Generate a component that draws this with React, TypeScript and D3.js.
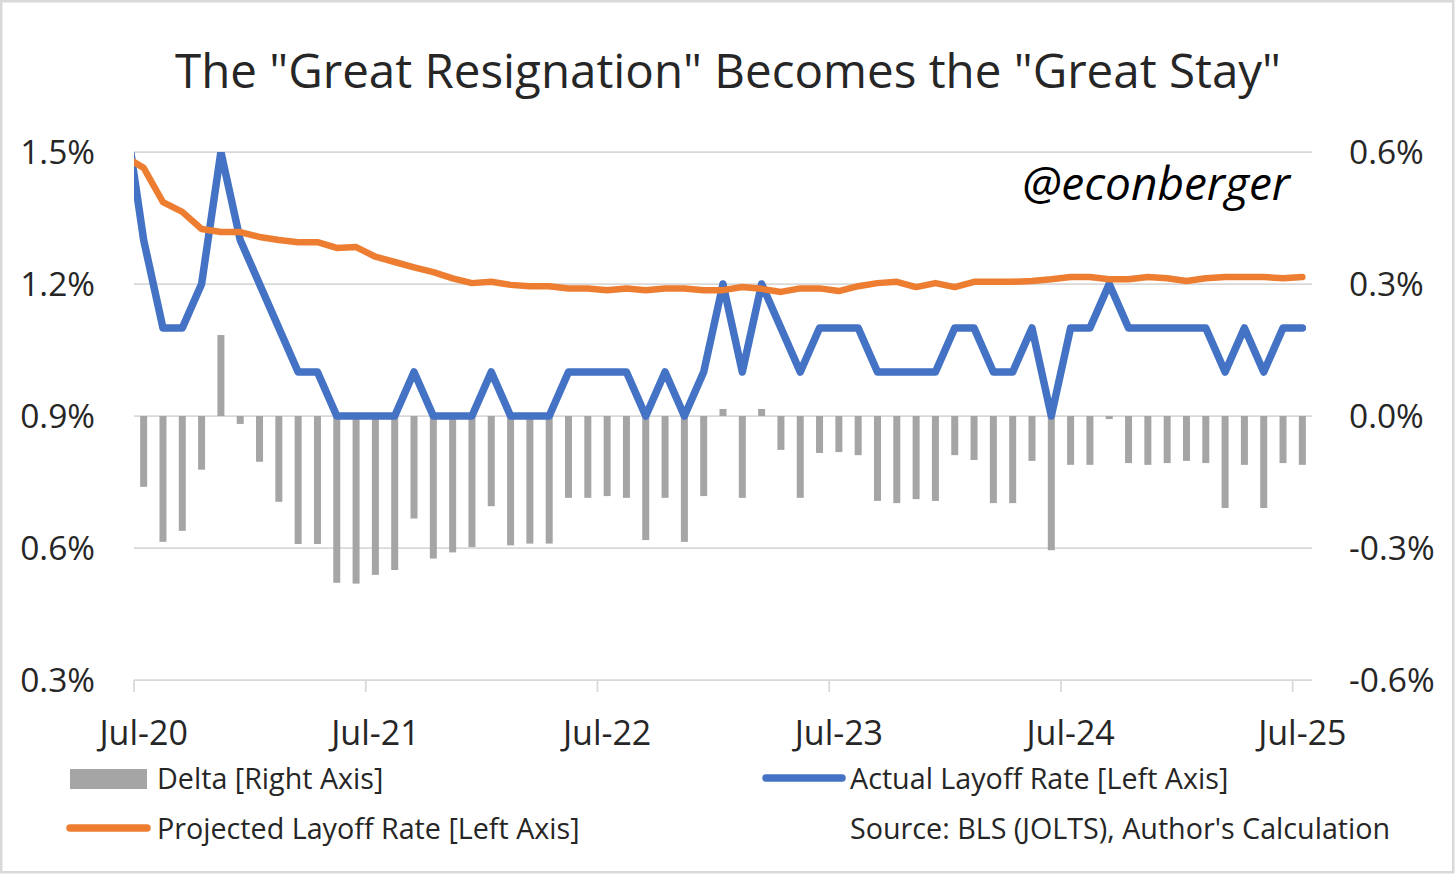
import React, { useEffect, useRef } from 'react';
import * as d3 from 'd3';

// monthly categories, Jul-20 .. Jul-25
const months = d3.timeMonth.range(new Date(2020, 6, 1), new Date(2025, 7, 1));

// Actual layoff rate (%), left axis
const actualRate = [
    1.3, 1.1, 1.1, 1.2, 1.5, 1.3, 1.2, 1.1, 1.0, 1.0,
    0.9, 0.9, 0.9, 0.9, 1.0, 0.9, 0.9, 0.9, 1.0, 0.9,
    0.9, 0.9, 1.0, 1.0, 1.0, 1.0, 0.9, 1.0, 0.9, 1.0,
    1.2, 1.0, 1.2, 1.1, 1.0, 1.1, 1.1, 1.1, 1.0, 1.0,
    1.0, 1.0, 1.1, 1.1, 1.0, 1.0, 1.1, 0.9, 1.1, 1.1,
    1.2, 1.1, 1.1, 1.1, 1.1, 1.1, 1.0, 1.1, 1.0, 1.1,
    1.1
];

// Projected layoff rate (%), left axis
const projectedRate = [
    1.464, 1.386, 1.364, 1.325, 1.318, 1.318, 1.307, 1.300, 1.295, 1.295,
    1.282, 1.284, 1.262, 1.250, 1.238, 1.227, 1.213, 1.202, 1.205, 1.198,
    1.195, 1.195, 1.190, 1.190, 1.186, 1.190, 1.186, 1.190, 1.190, 1.186,
    1.186, 1.193, 1.189, 1.182, 1.190, 1.190, 1.184, 1.195, 1.202, 1.205,
    1.193, 1.202, 1.193, 1.205, 1.205, 1.205, 1.207, 1.211, 1.216, 1.216,
    1.211, 1.211, 1.216, 1.213, 1.207, 1.213, 1.216, 1.216, 1.216, 1.213,
    1.216
];

// Delta (actual - projected, %), right axis
const delta = [
    -0.161, -0.286, -0.261, -0.122, 0.184, -0.018, -0.104, -0.195, -0.291, -0.291,
    -0.379, -0.381, -0.361, -0.350, -0.233, -0.324, -0.310, -0.298, -0.205, -0.294,
    -0.290, -0.290, -0.186, -0.186, -0.182, -0.186, -0.282, -0.186, -0.286, -0.182,
    0.016, -0.186, 0.016, -0.077, -0.186, -0.084, -0.082, -0.089, -0.193, -0.198,
    -0.189, -0.193, -0.089, -0.100, -0.198, -0.198, -0.102, -0.305, -0.111, -0.111,
    -0.007, -0.107, -0.111, -0.107, -0.102, -0.107, -0.209, -0.111, -0.209, -0.107,
    -0.111
];

// Jun-20 values: off the left edge of the plot, only the line run-in shows
const priorActual = 1.6;
const priorProjected = 1.49;

const leftTicks = [0.3, 0.6, 0.9, 1.2, 1.5];
const rightTicks = [-0.6, -0.3, 0.0, 0.3, 0.6];

const W = 1456;
const H = 875;
const plot = { left: 134, right: 1312, top: 152, bottom: 680 };
const FONT = "'Open Sans', 'Noto Sans', sans-serif";
const TEXT = '#262626';
const GRID = '#d9d9d9';

const App: React.FC = () => {
    const svgRef = useRef<SVGSVGElement>(null);

    useEffect(() => {
        if (!svgRef.current) return;
        document.body.style.margin = '0';

        const svg = d3.select(svgRef.current);
        svg.selectAll('*').remove();

        const x = d3.scaleLinear()
            .domain([-0.5, months.length - 0.5])
            .range([plot.left, plot.right]);
        const yLeft = d3.scaleLinear().domain([0.3, 1.5]).range([plot.bottom, plot.top]);
        const yRight = d3.scaleLinear().domain([-0.6, 0.6]).range([plot.bottom, plot.top]);

        // background + frame
        svg.append('rect')
            .attr('x', 1.25).attr('y', 1.25)
            .attr('width', W - 4).attr('height', H - 4)
            .attr('fill', '#fff')
            .attr('stroke', GRID)
            .attr('stroke-width', 2.5);

        svg.append('defs').append('clipPath')
            .attr('id', 'plot-clip')
            .append('rect')
            .attr('x', plot.left).attr('y', plot.top)
            .attr('width', plot.right - plot.left)
            .attr('height', plot.bottom - plot.top);

        // title
        svg.append('text')
            .attr('x', W / 2).attr('y', 88)
            .attr('text-anchor', 'middle')
            .attr('font-family', FONT)
            .attr('font-size', 47.5)
            .attr('fill', TEXT)
            .text('The "Great Resignation" Becomes the "Great Stay"');

        // gridlines
        svg.append('g')
            .selectAll('line')
            .data(leftTicks)
            .join('line')
            .attr('x1', plot.left).attr('x2', plot.right)
            .attr('y1', d => yLeft(d)).attr('y2', d => yLeft(d))
            .attr('stroke', GRID)
            .attr('stroke-width', 1.75);

        // x tick marks, at the left edge of each July
        const julys = d3.range(months.length).filter(i => months[i].getMonth() === 6);
        svg.append('g')
            .selectAll('line')
            .data(julys)
            .join('line')
            .attr('x1', i => x(i - 0.5)).attr('x2', i => x(i - 0.5))
            .attr('y1', plot.bottom).attr('y2', plot.bottom + 12)
            .attr('stroke', GRID)
            .attr('stroke-width', 1.75);

        const fmt = d3.timeFormat('%b-%y');
        svg.append('g')
            .selectAll('text')
            .data(julys)
            .join('text')
            .attr('x', i => x(i))
            .attr('y', 745)
            .attr('text-anchor', 'middle')
            .attr('font-family', FONT)
            .attr('font-size', 34)
            .attr('fill', TEXT)
            .text(i => fmt(months[i]));

        // y tick labels
        svg.append('g')
            .selectAll('text')
            .data(leftTicks)
            .join('text')
            .attr('x', 95)
            .attr('y', d => yLeft(d) + 12)
            .attr('text-anchor', 'end')
            .attr('font-family', FONT)
            .attr('font-size', 33.5)
            .attr('fill', TEXT)
            .text(d => `${d.toFixed(1)}%`);

        svg.append('g')
            .selectAll('text')
            .data(rightTicks)
            .join('text')
            .attr('x', 1349)
            .attr('y', d => yRight(d) + 12)
            .attr('font-family', FONT)
            .attr('font-size', 33.5)
            .attr('fill', TEXT)
            .text(d => `${d.toFixed(1)}%`);

        // watermark
        svg.append('text')
            .attr('x', 1290).attr('y', 200)
            .attr('text-anchor', 'end')
            .attr('font-family', FONT)
            .attr('font-style', 'italic')
            .attr('font-size', 46)
            .attr('fill', '#000')
            .text('@econberger');

        // delta bars
        const barW = 7;
        svg.append('g')
            .selectAll('rect')
            .data(delta)
            .join('rect')
            .attr('x', (_, i) => x(i) - barW / 2)
            .attr('width', barW)
            .attr('y', d => yRight(Math.max(0, d)))
            .attr('height', d => Math.abs(yRight(d) - yRight(0)))
            .attr('fill', '#a5a5a5');

        const lines = svg.append('g').attr('clip-path', 'url(#plot-clip)');
        const line = d3.line<number>()
            .x((_, i) => x(i - 1))
            .y(d => yLeft(d));

        lines.append('path')
            .datum([priorActual, ...actualRate])
            .attr('d', line)
            .attr('fill', 'none')
            .attr('stroke', '#4472c4')
            .attr('stroke-width', 7.5)
            .attr('stroke-linejoin', 'round')
            .attr('stroke-linecap', 'round');

        lines.append('path')
            .datum([priorProjected, ...projectedRate])
            .attr('d', line)
            .attr('fill', 'none')
            .attr('stroke', '#ed7d31')
            .attr('stroke-width', 6.5)
            .attr('stroke-linejoin', 'round')
            .attr('stroke-linecap', 'round');

        // legend
        const legend = svg.append('g')
            .attr('font-family', FONT)
            .attr('font-size', 28.7)
            .attr('fill', TEXT);

        legend.append('rect')
            .attr('x', 70).attr('y', 769)
            .attr('width', 77).attr('height', 20)
            .attr('fill', '#a5a5a5');
        legend.append('text').attr('x', 157).attr('y', 789).text('Delta [Right Axis]');

        legend.append('line')
            .attr('x1', 766).attr('x2', 842)
            .attr('y1', 778).attr('y2', 778)
            .attr('stroke', '#4472c4')
            .attr('stroke-width', 7.5)
            .attr('stroke-linecap', 'round');
        legend.append('text').attr('x', 850).attr('y', 789).text('Actual Layoff Rate [Left Axis]');

        legend.append('line')
            .attr('x1', 70).attr('x2', 147)
            .attr('y1', 828).attr('y2', 828)
            .attr('stroke', '#ed7d31')
            .attr('stroke-width', 7.5)
            .attr('stroke-linecap', 'round');
        legend.append('text').attr('x', 157).attr('y', 839).text('Projected Layoff Rate [Left Axis]');

        legend.append('text').attr('x', 850).attr('y', 839).text("Source: BLS (JOLTS), Author's Calculation");
    }, []);

    return (
        <svg
            ref={svgRef}
            width={W}
            height={H}
            style={{ position: 'absolute', left: 0, top: 0, display: 'block' }}
        />
    );
};

export default App;
